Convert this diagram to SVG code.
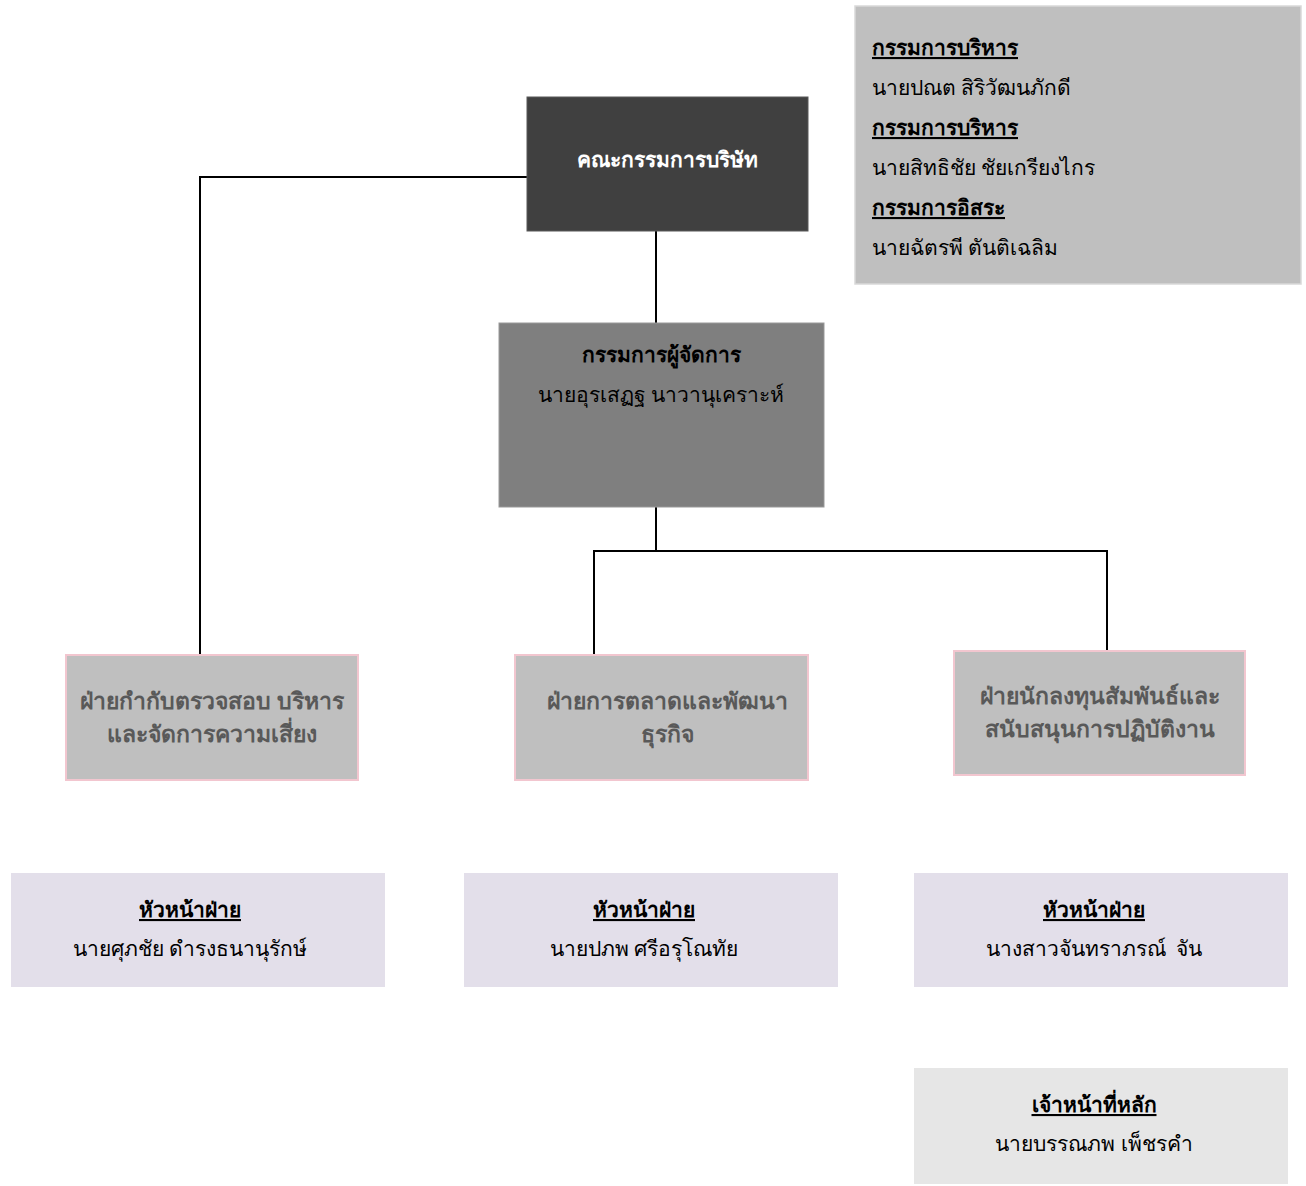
<svg xmlns="http://www.w3.org/2000/svg" width="1306" height="1186" viewBox="0 0 1306 1186">
<style>
text{font-family:"Noto Sans","DejaVu Sans",sans-serif;font-size:21px;fill:#000}
.b{font-weight:bold}
.u{text-decoration:underline}
.c{text-anchor:middle}
.w{fill:#fff}
.g{fill:#595959;font-size:23px}
.dept{fill:#bfbfbf;stroke:#f2c6cf;stroke-width:2}
.head{fill:#e3dfea}
.conn{fill:none;stroke:#000;stroke-width:2}
</style>
<rect width="1306" height="1186" fill="#fff"/>
<g id="board-list">
<rect x="855" y="6" width="446" height="278" fill="#bfbfbf" stroke="#d9d9d9" stroke-width="1.5"/>
<text x="872" y="55" class="b u">กรรมการบริหาร</text>
<text x="872" y="95">นายปณต สิริวัฒนภักดี</text>
<text x="872" y="135" class="b u">กรรมการบริหาร</text>
<text x="872" y="175">นายสิทธิชัย ชัยเกรียงไกร</text>
<text x="872" y="215" class="b u">กรรมการอิสระ</text>
<text x="872" y="255">นายฉัตรพี ตันติเฉลิม</text>
</g>
<g id="connectors">
<path class="conn" d="M656 231V323"/>
<path class="conn" d="M527 177H200V655"/>
<path class="conn" d="M656 507V551"/>
<path class="conn" d="M594 655V551H1107V651"/>
</g>
<g id="board">
<rect x="527" y="97" width="281" height="134" fill="#404040" stroke="#595959" stroke-width="1"/>
<text x="667" y="167" class="b c w">คณะกรรมการบริษัท</text>
</g>
<g id="md">
<rect x="499" y="323" width="325" height="184" fill="#7f7f7f" stroke="#999" stroke-width="1"/>
<text x="661" y="362" class="b c">กรรมการผู้จัดการ</text>
<text x="661" y="402" class="c">นายอุรเสฏฐ นาวานุเคราะห์</text>
</g>
<g id="dept-audit">
<rect x="66" y="655" width="292" height="125" class="dept"/>
<text x="212" y="709" class="b c g">ฝ่ายกำกับตรวจสอบ บริหาร</text>
<text x="212" y="742" class="b c g">และจัดการความเสี่ยง</text>
</g>
<g id="dept-marketing">
<rect x="515" y="655" width="293" height="125" class="dept"/>
<text x="667" y="709" class="b c g">ฝ่ายการตลาดและพัฒนา</text>
<text x="667" y="742" class="b c g">ธุรกิจ</text>
</g>
<g id="dept-ir">
<rect x="954" y="651" width="291" height="124" class="dept"/>
<text x="1100" y="704" class="b c g">ฝ่ายนักลงทุนสัมพันธ์และ</text>
<text x="1100" y="737" class="b c g">สนับสนุนการปฏิบัติงาน</text>
</g>
<g id="head-audit">
<rect x="11" y="873" width="374" height="114" class="head"/>
<text x="190" y="917" class="b u c">หัวหน้าฝ่าย</text>
<text x="190" y="956" class="c">นายศุภชัย ดำรงธนานุรักษ์</text>
</g>
<g id="head-marketing">
<rect x="464" y="873" width="374" height="114" class="head"/>
<text x="644" y="917" class="b u c">หัวหน้าฝ่าย</text>
<text x="644" y="956" class="c">นายปภพ ศรีอรุโณทัย</text>
</g>
<g id="head-ir">
<rect x="914" y="873" width="374" height="114" class="head"/>
<text x="1094" y="917" class="b u c">หัวหน้าฝ่าย</text>
<text x="1094" y="956" class="c" xml:space="preserve">นางสาวจันทราภรณ์  จัน</text>
</g>
<g id="officer">
<rect x="914" y="1068" width="374" height="116" fill="#e6e6e6"/>
<text x="1094" y="1112" class="b u c">เจ้าหน้าที่หลัก</text>
<text x="1094" y="1151" class="c">นายบรรณภพ เพ็ชรคำ</text>
</g>
</svg>
